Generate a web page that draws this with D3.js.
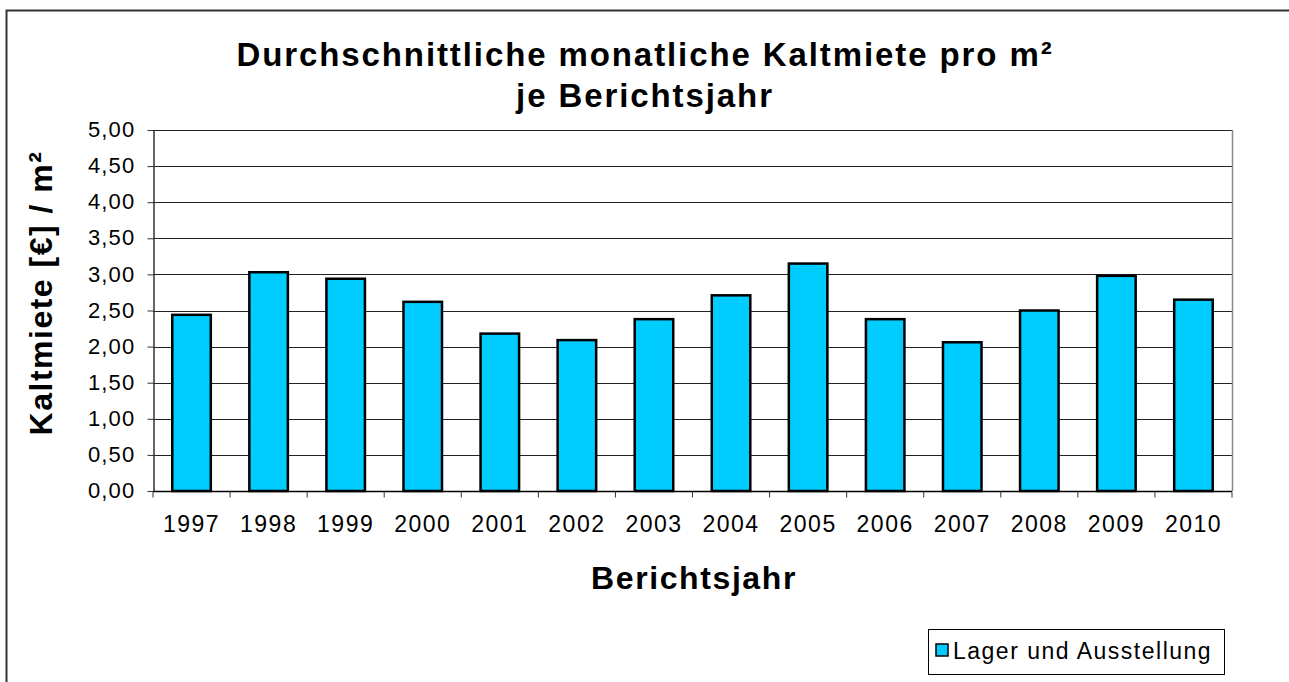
<!DOCTYPE html>
<html><head><meta charset="utf-8">
<script src="https://cdn.jsdelivr.net/npm/d3@7"></script>
<style>body{margin:0;background:#fff}svg{display:block}text{font-family:"Liberation Sans",Arial,sans-serif}</style>
</head><body>
<script>
const years = ["1997","1998","1999","2000","2001","2002","2003","2004","2005","2006","2007","2008","2009","2010"];
const rents = [2.44,3.03,2.94,2.62,2.18,2.09,2.38,2.71,3.15,2.38,2.06,2.50,2.98,2.65];
const yTicks = [0,0.5,1,1.5,2,2.5,3,3.5,4,4.5,5];
const seriesName = "Lager und Ausstellung";

const W = 1289, H = 682;
const svg = d3.select("body").append("svg").attr("width", W).attr("height", H);
svg.append("rect").attr("x",6.5).attr("y",10.5).attr("width",1300).attr("height",700)
  .attr("fill","#fff").attr("stroke","#333").attr("stroke-width",2);

const L = 153, R = 1232, T = 130, B = 491;
const x = d3.scaleBand().domain(years).range([L, R]).paddingInner(0.5).paddingOuter(0.25);
const y = d3.scaleLinear().domain([0, 5]).range([B, T]);
const fmt = v => d3.format(".2f")(v).replace(".", ",");
const FF = "'Liberation Sans',Arial,sans-serif";

// gridlines
svg.append("g").selectAll("line").data(yTicks.filter(d=>d>0)).join("line")
  .attr("x1", L).attr("x2", R).attr("y1", d=>Math.round(y(d))+0.5).attr("y2", d=>Math.round(y(d))+0.5)
  .attr("stroke", "#222").attr("stroke-width", 1);
svg.append("line").attr("x1",R+0.5).attr("x2",R+0.5).attr("y1",T).attr("y2",B).attr("stroke","#888").attr("stroke-width",1.5);

// bars
svg.append("g").selectAll("rect").data(rents).join("rect")
  .attr("x", (d,i)=>x(years[i])).attr("width", x.bandwidth())
  .attr("y", d=>y(d)).attr("height", d=>B - y(d))
  .attr("fill", "#00CCFF").attr("stroke", "#000").attr("stroke-width", 2.5);

// y axis
const ya = svg.append("g").attr("transform", `translate(${L+0.5},0)`)
  .call(d3.axisLeft(y).tickValues(yTicks).tickFormat(fmt).tickSize(6).tickSizeOuter(0));
ya.attr("font-family", FF);
ya.select(".domain").attr("stroke","#333").attr("stroke-width",1.5);
ya.selectAll(".tick line").attr("stroke","#333");
ya.selectAll(".tick text").attr("font-size",22).attr("letter-spacing",1.2).attr("fill","#000")
  .attr("x",-18).attr("dy","0.3em");

// x axis
const xb = d3.scaleLinear().domain([0, years.length]).range([L, R]);
const xa = svg.append("g").attr("transform", `translate(0,${B+0.5})`);
xa.append("line").attr("x1",L).attr("x2",R).attr("stroke","#000").attr("stroke-width",1.5);
xa.selectAll(".t").data(d3.range(years.length+1)).join("line").attr("class","t")
  .attr("x1", d=>xb(d)).attr("x2", d=>xb(d)).attr("y1",0).attr("y2",6).attr("stroke","#333");
xa.selectAll("text").data(years).join("text")
  .attr("x", d=>x(d)+x.bandwidth()/2).attr("y", 40).attr("text-anchor","middle")
  .attr("font-size",23).attr("letter-spacing",1.5).attr("fill","#000").text(d=>d);

// titles
svg.append("text").attr("x",645).attr("y",66).attr("text-anchor","middle")
  .attr("font-size",33).attr("letter-spacing",1.9).attr("font-weight","bold").text("Durchschnittliche monatliche Kaltmiete pro m²");
svg.append("text").attr("x",645).attr("y",107).attr("text-anchor","middle")
  .attr("font-size",33).attr("letter-spacing",1.9).attr("font-weight","bold").text("je Berichtsjahr");
svg.append("text").attr("x",694).attr("y",589).attr("text-anchor","middle")
  .attr("font-size",32).attr("letter-spacing",1.6).attr("font-weight","bold").text("Berichtsjahr");
svg.append("text").attr("transform","translate(52,293) rotate(-90)").attr("text-anchor","middle")
  .attr("font-size",32).attr("letter-spacing",1.5).attr("font-weight","bold").text("Kaltmiete [€] / m²");

// legend
const lg = svg.append("g");
lg.append("rect").attr("x",928.5).attr("y",629.5).attr("width",296).attr("height",45)
  .attr("fill","#fff").attr("stroke","#000").attr("stroke-width",1);
lg.append("rect").attr("x",936).attr("y",644).attr("width",12).attr("height",12)
  .attr("fill","#00CCFF").attr("stroke","#000").attr("stroke-width",1.5);
lg.append("text").attr("x",953).attr("y",659).attr("font-size",23).attr("letter-spacing",1.5).attr("fill","#000").text(seriesName);
</script>
</body></html>
